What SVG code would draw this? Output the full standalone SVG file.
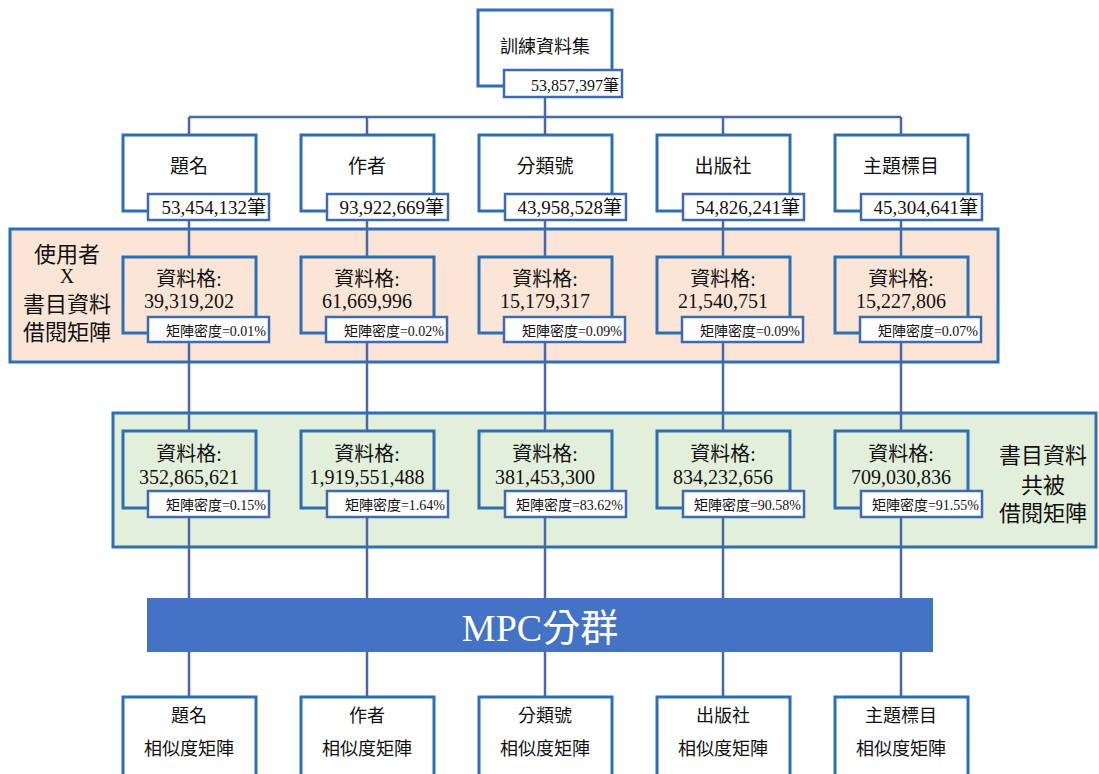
<svg xmlns="http://www.w3.org/2000/svg" width="1099" height="774" viewBox="0 0 1099 774">
<style>
.bg{fill:#ffffff}
.box{fill:#ffffff;stroke:#2e6fb3;stroke-width:3}
.pbox{fill:#fbe5d6;stroke:#2e6fb3;stroke-width:3}
.gbox{fill:#e2efda;stroke:#2e6fb3;stroke-width:3}
.lbl{fill:#ffffff;stroke:#3f69b0;stroke-width:2.5}
.band-p{fill:#fbe5d6;stroke:#2e6fb3;stroke-width:3}
.band-g{fill:#e2efda;stroke:#2e6fb3;stroke-width:3}
.conn{stroke:#4a68a8;stroke-width:2.5;fill:none}
.cjk{font-family:"Liberation Serif","Noto Sans CJK TC",serif;fill:#111}
.c{text-anchor:middle}
.r{text-anchor:end}
.t1{font-size:19px}
.t2{font-size:20px}
.t3{font-size:14px}
.t4{font-size:18px}
.side{font-size:22px}
</style>
<rect class="bg" x="0" y="0" width="1099" height="774"/>
<g id="band-user-book">
<rect class="band-p" x="10" y="229" width="988" height="133"/>
<text class="cjk c side" x="67" y="262">使用者</text>
<text class="cjk c" style="font-size:20px" x="67" y="283">X</text>
<text class="cjk c side" x="67" y="312">書目資料</text>
<text class="cjk c side" x="67" y="340">借閱矩陣</text>
</g>
<g id="band-cocirc">
<rect class="band-g" x="113" y="413" width="983" height="134"/>
<text class="cjk c side" x="1043" y="463">書目資料</text>
<text class="cjk c side" x="1043" y="493">共被</text>
<text class="cjk c side" x="1043" y="521">借閱矩陣</text>
</g>
<g id="connectors">
<line class="conn" x1="545" y1="97" x2="545" y2="117"/>
<line class="conn" x1="189" y1="117" x2="901" y2="117"/>
<line class="conn" x1="189" y1="117" x2="189" y2="697"/>
<line class="conn" x1="367" y1="117" x2="367" y2="697"/>
<line class="conn" x1="545" y1="117" x2="545" y2="697"/>
<line class="conn" x1="723" y1="117" x2="723" y2="697"/>
<line class="conn" x1="901" y1="117" x2="901" y2="697"/>
</g>
<g id="root">
<rect class="box" x="478" y="10" width="134" height="76"/>
<text class="cjk c t4" x="545" y="53">訓練資料集</text>
<rect class="lbl" x="504" y="70" width="118" height="27"/>
<text class="cjk r" style="font-size:16px" x="619" y="91">53,857,397筆</text>
</g>
<g id="f1"><rect class="box" x="123" y="135" width="133" height="76"/><text class="cjk c t1" x="189" y="173">題名</text><rect class="lbl" x="148" y="194" width="121" height="26"/><text class="cjk r t1" x="266" y="214">53,454,132筆</text></g>
<g id="f2"><rect class="box" x="301" y="135" width="133" height="76"/><text class="cjk c t1" x="367" y="173">作者</text><rect class="lbl" x="327" y="194" width="121" height="26"/><text class="cjk r t1" x="444" y="214">93,922,669筆</text></g>
<g id="f3"><rect class="box" x="479" y="135" width="133" height="76"/><text class="cjk c t1" x="545" y="173">分類號</text><rect class="lbl" x="505" y="194" width="121" height="26"/><text class="cjk r t1" x="622" y="214">43,958,528筆</text></g>
<g id="f4"><rect class="box" x="657" y="135" width="133" height="76"/><text class="cjk c t1" x="723" y="173">出版社</text><rect class="lbl" x="683" y="194" width="121" height="26"/><text class="cjk r t1" x="800" y="214">54,826,241筆</text></g>
<g id="f5"><rect class="box" x="835" y="135" width="133" height="76"/><text class="cjk c t1" x="901" y="173">主題標目</text><rect class="lbl" x="861" y="194" width="121" height="26"/><text class="cjk r t1" x="978" y="214">45,304,641筆</text></g>
<g id="u1"><rect class="pbox" x="123" y="257" width="133" height="76"/><text class="cjk c t2" x="189" y="286">資料格:</text><text class="cjk c t2" x="189" y="308">39,319,202</text><rect class="lbl" x="148" y="317" width="121" height="25"/><text class="cjk r t3" x="266" y="336">矩陣密度=0.01%</text></g>
<g id="u2"><rect class="pbox" x="301" y="257" width="133" height="76"/><text class="cjk c t2" x="367" y="286">資料格:</text><text class="cjk c t2" x="367" y="308">61,669,996</text><rect class="lbl" x="326" y="317" width="121" height="25"/><text class="cjk r t3" x="444" y="336">矩陣密度=0.02%</text></g>
<g id="u3"><rect class="pbox" x="479" y="257" width="133" height="76"/><text class="cjk c t2" x="545" y="286">資料格:</text><text class="cjk c t2" x="545" y="308">15,179,317</text><rect class="lbl" x="504" y="317" width="121" height="25"/><text class="cjk r t3" x="622" y="336">矩陣密度=0.09%</text></g>
<g id="u4"><rect class="pbox" x="657" y="257" width="133" height="76"/><text class="cjk c t2" x="723" y="286">資料格:</text><text class="cjk c t2" x="723" y="308">21,540,751</text><rect class="lbl" x="682" y="317" width="121" height="25"/><text class="cjk r t3" x="800" y="336">矩陣密度=0.09%</text></g>
<g id="u5"><rect class="pbox" x="835" y="257" width="133" height="76"/><text class="cjk c t2" x="901" y="286">資料格:</text><text class="cjk c t2" x="901" y="308">15,227,806</text><rect class="lbl" x="860" y="317" width="121" height="25"/><text class="cjk r t3" x="978" y="336">矩陣密度=0.07%</text></g>
<g id="g1"><rect class="gbox" x="123" y="431" width="133" height="77"/><text class="cjk c t2" x="189" y="461">資料格:</text><text class="cjk c t2" x="189" y="484">352,865,621</text><rect class="lbl" x="148" y="491" width="121" height="26"/><text class="cjk r t3" x="266" y="510">矩陣密度=0.15%</text></g>
<g id="g2"><rect class="gbox" x="301" y="431" width="133" height="77"/><text class="cjk c t2" x="367" y="461">資料格:</text><text class="cjk c t2" x="367" y="484">1,919,551,488</text><rect class="lbl" x="327" y="491" width="121" height="26"/><text class="cjk r t3" x="445" y="510">矩陣密度=1.64%</text></g>
<g id="g3"><rect class="gbox" x="479" y="431" width="133" height="77"/><text class="cjk c t2" x="545" y="461">資料格:</text><text class="cjk c t2" x="545" y="484">381,453,300</text><rect class="lbl" x="505" y="491" width="121" height="26"/><text class="cjk r t3" x="623" y="510">矩陣密度=83.62%</text></g>
<g id="g4"><rect class="gbox" x="657" y="431" width="133" height="77"/><text class="cjk c t2" x="723" y="461">資料格:</text><text class="cjk c t2" x="723" y="484">834,232,656</text><rect class="lbl" x="683" y="491" width="121" height="26"/><text class="cjk r t3" x="801" y="510">矩陣密度=90.58%</text></g>
<g id="g5"><rect class="gbox" x="835" y="431" width="133" height="77"/><text class="cjk c t2" x="901" y="461">資料格:</text><text class="cjk c t2" x="901" y="484">709,030,836</text><rect class="lbl" x="861" y="491" width="121" height="26"/><text class="cjk r t3" x="979" y="510">矩陣密度=91.55%</text></g>
<g id="mpc">
<rect x="147" y="598" width="786" height="54" fill="#4472c4"/>
<text x="540" y="641" text-anchor="middle" style="font-family:'Liberation Serif','Noto Sans CJK TC',serif;font-size:38px;fill:#ffffff">MPC分群</text>
</g>
<g id="s1"><rect class="box" x="123" y="697" width="133" height="90"/><text class="cjk c t4" x="189" y="722">題名</text><text class="cjk c t4" x="189" y="755">相似度矩陣</text></g>
<g id="s2"><rect class="box" x="301" y="697" width="133" height="90"/><text class="cjk c t4" x="367" y="722">作者</text><text class="cjk c t4" x="367" y="755">相似度矩陣</text></g>
<g id="s3"><rect class="box" x="479" y="697" width="133" height="90"/><text class="cjk c t4" x="545" y="722">分類號</text><text class="cjk c t4" x="545" y="755">相似度矩陣</text></g>
<g id="s4"><rect class="box" x="657" y="697" width="133" height="90"/><text class="cjk c t4" x="723" y="722">出版社</text><text class="cjk c t4" x="723" y="755">相似度矩陣</text></g>
<g id="s5"><rect class="box" x="835" y="697" width="133" height="90"/><text class="cjk c t4" x="901" y="722">主題標目</text><text class="cjk c t4" x="901" y="755">相似度矩陣</text></g>
</svg>
